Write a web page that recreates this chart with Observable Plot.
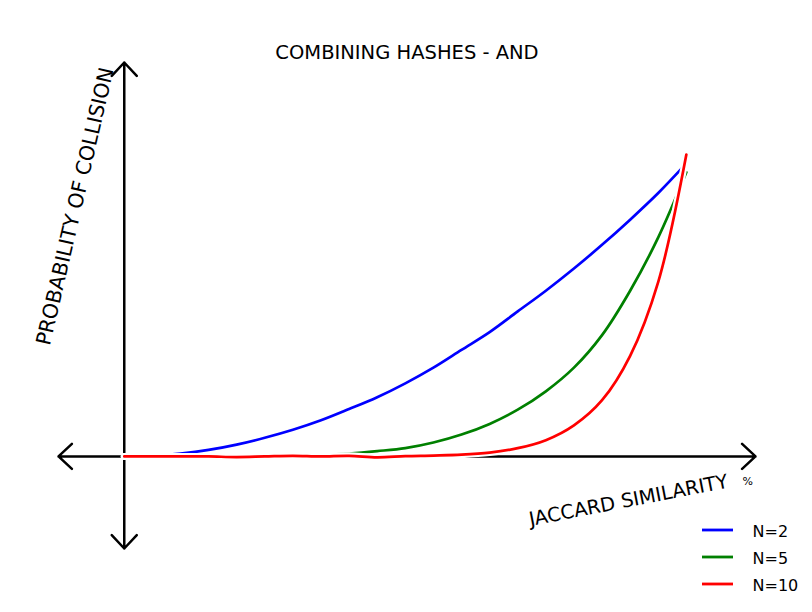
<!DOCTYPE html>
<html><head><meta charset="utf-8">
<script src="https://cdn.jsdelivr.net/npm/d3@7"></script>
<script src="https://cdn.jsdelivr.net/npm/@observablehq/plot@0.6"></script>
<style>body{margin:0;background:#fff;} svg{display:block;}</style>
</head><body><div id="chart"></div>
<script>
const title = "COMBINING HASHES - AND";
const xLabel = "JACCARD SIMILARITY";
const xUnit = "%";
const yLabel = "PROBABILITY OF COLLISION";
const seriesNames = ["N=2", "N=5", "N=10"];
const seriesColors = ["#0000ff", "#008000", "#ff0000"];
const xs = [0,0.05,0.1,0.15,0.2,0.25,0.3,0.35,0.4,0.45,0.5,0.55,0.6,0.65,0.7,0.75,0.8,0.85,0.9,0.95,1.0];
const n2 = [0,0.003,0.01,0.022,0.04,0.063,0.09,0.122,0.16,0.2,0.247,0.3,0.36,0.42,0.49,0.56,0.635,0.715,0.8,0.89,0.99];
const n5 = [0,0,0,0,0,0.001,0.002,0.005,0.01,0.018,0.028,0.047,0.074,0.11,0.158,0.22,0.3,0.41,0.56,0.74,0.96];
const n10 = [0,0,0,0,-0.002,0,0.002,0,0.002,-0.003,0.001,0.003,0.006,0.013,0.028,0.055,0.105,0.19,0.34,0.59,1.02];

const series = [n2, n5, n10];
const rows = series.flatMap((vals, i) => xs.map((x, j) => ({x, y: vals[j], s: seriesNames[i]})));
const xDom = [-0.117, 1.123], yDom = [-0.311, 1.331];
const axes = [
  {x1: 0, y1: 0, x2: xDom[0], y2: 0},
  {x1: 0, y1: 0, x2: xDom[1], y2: 0},
  {x1: 0, y1: 0, x2: 0, y2: yDom[0]},
  {x1: 0, y1: 0, x2: 0, y2: yDom[1]}
];
const font = "DejaVu Sans";
const marks = [
  Plot.arrow(axes, {x1: "x1", y1: "y1", x2: "x2", y2: "y2", stroke: "black", strokeWidth: 2.5, headLength: 11, headAngle: 86})
];
seriesNames.forEach((name, i) => {
  const d = rows.filter(r => r.s === name);
  marks.push(Plot.line(d, {x: "x", y: "y", stroke: "white", strokeWidth: 7, curve: "catmull-rom"}));
  marks.push(Plot.line(d, {x: "x", y: "y", stroke: seriesColors[i], strokeWidth: 2.7, curve: "catmull-rom"}));
});
marks.push(
  Plot.text([title], {frameAnchor: "top", dy: -10, text: d => d, fontSize: 19.5, fontFamily: font, fill: "black", lineAnchor: "middle"}),
  Plot.text([xLabel], {x: () => 0.897, y: () => -0.149, text: d => d, rotate: -11, fontSize: 19.5, fontFamily: font, fill: "black", lineAnchor: "middle"}),
  Plot.text([xUnit], {x: () => 1.109, y: () => -0.084, text: d => d, fontSize: 11, fontFamily: font, fill: "black", lineAnchor: "middle"}),
  Plot.text([yLabel], {x: () => -0.087, y: () => 0.845, text: d => d, rotate: -77, fontSize: 20.5, fontFamily: font, fill: "black", lineAnchor: "middle"})
);
seriesNames.forEach((name, i) => {
  marks.push(Plot.text([name], {frameAnchor: "bottom-right", dx: -3, dy: -17 + 27 * i, text: d => d, fontSize: 16, fontFamily: font, fill: "black", textAnchor: "start", lineAnchor: "middle"}));
});

const chart = Plot.plot({
  width: 812, height: 612,
  marginLeft: 58, marginRight: 57, marginTop: 62, marginBottom: 64,
  x: {domain: xDom, axis: null},
  y: {domain: yDom, axis: null},
  style: {background: "white", overflow: "visible"},
  marks
});
document.getElementById("chart").append(chart);

// legend swatches
const svg = d3.select(chart);
const g = svg.append("g");
seriesNames.forEach((name, i) => {
  const yy = 530 + 27 * i;
  g.append("line").attr("x1", 702).attr("x2", 733).attr("y1", yy).attr("y2", yy)
    .attr("stroke", seriesColors[i]).attr("stroke-width", 2.8);
});
</script></body></html>
